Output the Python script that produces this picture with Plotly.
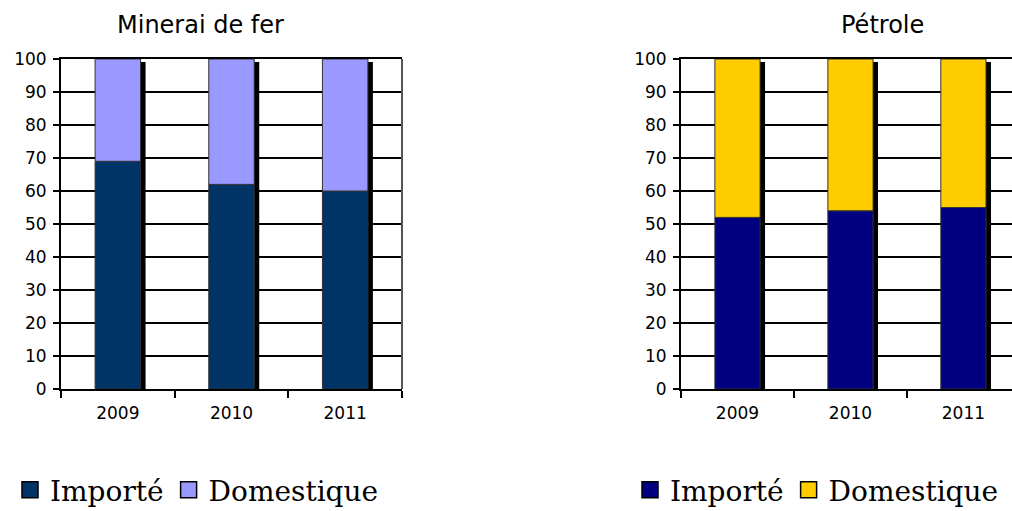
import plotly.graph_objects as go

# ---- data ----
years = ["2009", "2010", "2011"]
fer_importe = [69, 62, 60]
fer_domestique = [31, 38, 40]
pet_importe = [52, 54, 55]
pet_domestique = [48, 46, 45]
titles = ["Minerai de fer", "Pétrole"]
series_names = ["Importé", "Domestique"]
colors_fer = ["#003366", "#9999FF"]
colors_pet = ["#000080", "#FFCC00"]

W, H = 1012, 511
BAR_W = 0.4
SHADOW_DX = 0.044
SHADOW_DY = 0.9

fig = go.Figure()

def add_chart(xa, ya, imp, dom, colors, legend):
    totals = [a + b for a, b in zip(imp, dom)]
    # shadow
    fig.add_trace(go.Bar(x=years, y=[t - SHADOW_DY for t in totals], width=BAR_W,
                         offset=-BAR_W / 2 + SHADOW_DX, marker=dict(color="black", line=dict(width=0)),
                         xaxis=xa, yaxis=ya, showlegend=False, hoverinfo="skip"))
    fig.add_trace(go.Bar(x=years, y=imp, width=BAR_W, offset=-BAR_W / 2,
                         marker=dict(color=colors[0], line=dict(color="#333333", width=1)),
                         xaxis=xa, yaxis=ya, showlegend=False, name=series_names[0]))
    fig.add_trace(go.Bar(x=years, y=dom, base=imp, width=BAR_W, offset=-BAR_W / 2,
                         marker=dict(color=colors[1], line=dict(color="#333333", width=1)),
                         xaxis=xa, yaxis=ya, showlegend=False, name=series_names[1]))
    for name, c in zip(series_names, colors):
        fig.add_trace(go.Scatter(x=[None], y=[None], mode="markers", name=name,
                                 marker=dict(symbol="square", size=16, color=c,
                                             line=dict(color="black", width=1.5)),
                                 xaxis=xa, yaxis=ya, legend=legend))

add_chart("x", "y", fer_importe, fer_domestique, colors_fer, "legend")
add_chart("x2", "y2", pet_importe, pet_domestique, colors_pet, "legend2")

ydom = [(H - 389) / H, (H - 59) / H]
tickfont = dict(family="DejaVu Sans", size=17, color="black")
xcommon = dict(type="category", showline=True, linecolor="black", linewidth=2, mirror=True,
               ticks="outside", tickson="boundaries", ticklen=7, tickwidth=1.5, tickcolor="black",
               showgrid=False, tickfont=tickfont, fixedrange=True, automargin=False,
               ticklabelstandoff=8)
ycommon = dict(range=[0, 100], dtick=10, showline=True, linecolor="black", linewidth=2,
               ticks="outside", ticklen=6, tickwidth=1.5, tickcolor="black",
               showgrid=True, gridcolor="black", gridwidth=2, zeroline=False,
               tickfont=tickfont, domain=ydom, automargin=False, ticklabelstandoff=3)

legfont = dict(family="DejaVu Serif", size=28, color="black")

fig.update_layout(
    width=W, height=H, margin=dict(l=0, r=0, t=0, b=0, autoexpand=False),
    paper_bgcolor="white", plot_bgcolor="white",
    barmode="overlay",
    xaxis=dict(domain=[61 / W, 402 / W], range=[-0.5, 2.5], **xcommon),
    yaxis=dict(anchor="x", **ycommon),
    xaxis2=dict(domain=[681 / W, 1.0], range=[-0.5, 2.43], anchor="y2", **xcommon),
    yaxis2=dict(anchor="x2", **ycommon),
    legend=dict(orientation="h", x=10 / W, xanchor="left", y=(H - 490) / H, yanchor="middle",
                font=legfont, bgcolor="rgba(0,0,0,0)"),
    legend2=dict(orientation="h", x=630 / W, xanchor="left", y=(H - 490) / H, yanchor="middle",
                 font=legfont, bgcolor="rgba(0,0,0,0)"),
    showlegend=True,
    annotations=[
        dict(text=titles[0], x=200 / W, y=1 - 25 / H, xref="paper", yref="paper",
             xanchor="center", yanchor="middle",
             showarrow=False, font=dict(family="DejaVu Sans", size=24, color="black")),
        dict(text=titles[1], x=882 / W, y=1 - 25 / H, xref="paper", yref="paper",
             xanchor="center", yanchor="middle",
             showarrow=False, font=dict(family="DejaVu Sans", size=24, color="black")),
    ],
    shapes=[dict(type="line", xref="x domain", yref="y domain", x0=1, x1=1, y0=0, y1=1,
                 line=dict(color="#555555", width=2))],
)

fig.write_html("out.html")
